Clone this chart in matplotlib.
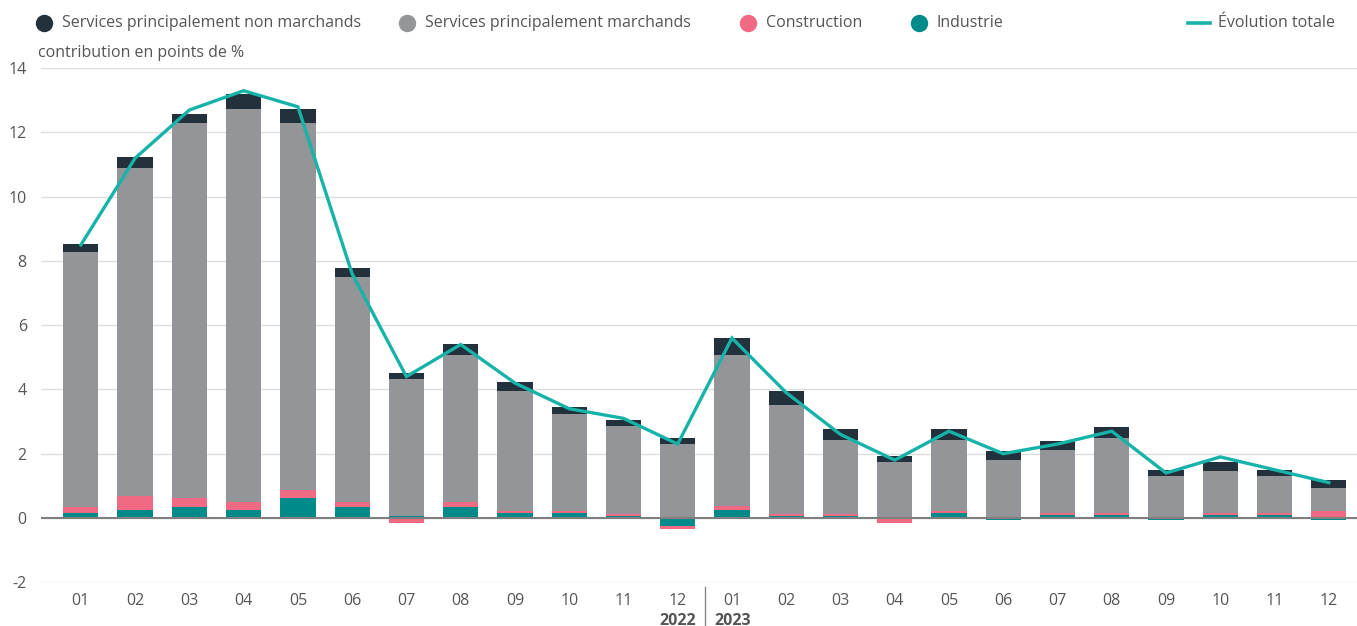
import numpy as np
import matplotlib.pyplot as plt

months = ['01', '02', '03', '04', '05', '06', '07', '08', '09', '10', '11', '12'] * 2

industrie = [0.16, 0.26, 0.35, 0.26, 0.61, 0.35, 0.05, 0.35, 0.16, 0.16, 0.06, -0.25,
             0.26, 0.06, 0.06, 0.0, 0.16, -0.05, 0.10, 0.10, -0.05, 0.10, 0.10, -0.05]
construction = [0.19, 0.41, 0.26, 0.23, 0.26, 0.15, -0.15, 0.15, 0.06, 0.06, 0.06, -0.08,
                0.10, 0.06, 0.06, -0.15, 0.06, 0.04, 0.06, 0.06, 0.03, 0.06, 0.06, 0.22]
marchands = [7.92, 10.22, 11.68, 12.23, 11.42, 7.00, 4.27, 4.57, 3.73, 3.01, 2.74, 2.30,
             4.71, 3.39, 2.31, 1.74, 2.21, 1.76, 1.96, 2.33, 1.28, 1.30, 1.15, 0.71]
non_marchands = [0.25, 0.34, 0.28, 0.47, 0.43, 0.28, 0.19, 0.34, 0.28, 0.22, 0.19, 0.19,
                 0.53, 0.44, 0.34, 0.19, 0.34, 0.28, 0.28, 0.34, 0.18, 0.28, 0.18, 0.25]
total = [8.5, 11.2, 12.7, 13.3, 12.8, 7.6, 4.4, 5.4, 4.2, 3.4, 3.1, 2.3,
         5.6, 3.9, 2.6, 1.8, 2.7, 2.0, 2.3, 2.7, 1.4, 1.9, 1.5, 1.1]

series = [
    ('Industrie', industrie, '#008a8a'),
    ('Construction', construction, '#f06a84'),
    ('Services principalement marchands', marchands, '#949598'),
    ('Services principalement non marchands', non_marchands, '#22313c'),
]

plt.rcParams['font.family'] = ['Open Sans', 'DejaVu Sans']
plt.rcParams['axes.unicode_minus'] = False
txt = '#555555'
fs = 11.5

fig = plt.figure(figsize=(13.57, 6.26), dpi=100)
ax = fig.add_axes([0.030, 0.07, 0.970, 0.821])

x = np.arange(len(months))
pos = np.zeros(len(x))
neg = np.zeros(len(x))
for name, vals, col in series:
    v = np.array(vals)
    base = np.where(v >= 0, pos, neg)
    ax.bar(x, v, bottom=base, width=0.65, color=col, zorder=2)
    pos = np.where(v >= 0, pos + v, pos)
    neg = np.where(v < 0, neg + v, neg)

ax.plot(x, total, color='#17b3a9', lw=2.4, zorder=3, solid_joinstyle='miter')

ax.set_ylim(-2, 14)
ax.set_xlim(-0.74, 23.52)
ax.set_yticks(range(-2, 15, 2))
ax.set_xticks(x)
ax.set_xticklabels(months)
ax.grid(axis='y', color='#dddddd', lw=1, zorder=0)
ax.axhline(0, color='#7f7f7f', lw=1.5, zorder=2.5)
for s in ax.spines.values():
    s.set_visible(False)
ax.tick_params(axis='both', length=0, labelsize=fs, colors=txt)
ax.tick_params(axis='x', pad=8)
ax.tick_params(axis='y', pad=10)

# year separator and labels
ax.plot([11.5, 11.5], [-2.15, -3.4], color='#888888', lw=1, clip_on=False)
ax.text(11.33, -3.2, '2022', ha='right', va='center', fontsize=fs, fontweight='bold', color=txt)
ax.text(11.67, -3.2, '2023', ha='left', va='center', fontsize=fs, fontweight='bold', color=txt)

fig.text(0.028, 0.915, 'contribution en points de %', fontsize=fs, color=txt, va='center')

# legend across the top
items = [
    ('Services principalement non marchands', '#22313c', 44),
    ('Services principalement marchands', '#949598', 407),
    ('Construction', '#f06a84', 748),
    ('Industrie', '#008a8a', 919),
]
W = 1357.0
ly = 0.964
for label, col, xc in items:
    fig.add_artist(plt.Line2D([xc / W], [ly], marker='o', markersize=11.5,
                              color=col, lw=0))
    fig.text((xc + 18) / W, ly, label, fontsize=fs, color=txt, va='center')
fig.add_artist(plt.Line2D([1188 / W, 1210 / W], [ly, ly], color='#17b3a9', lw=2.6))
fig.text(1218 / W, ly, '\u00c9volution totale', fontsize=fs, color=txt, va='center')

fig.savefig('out.png', dpi=100)
